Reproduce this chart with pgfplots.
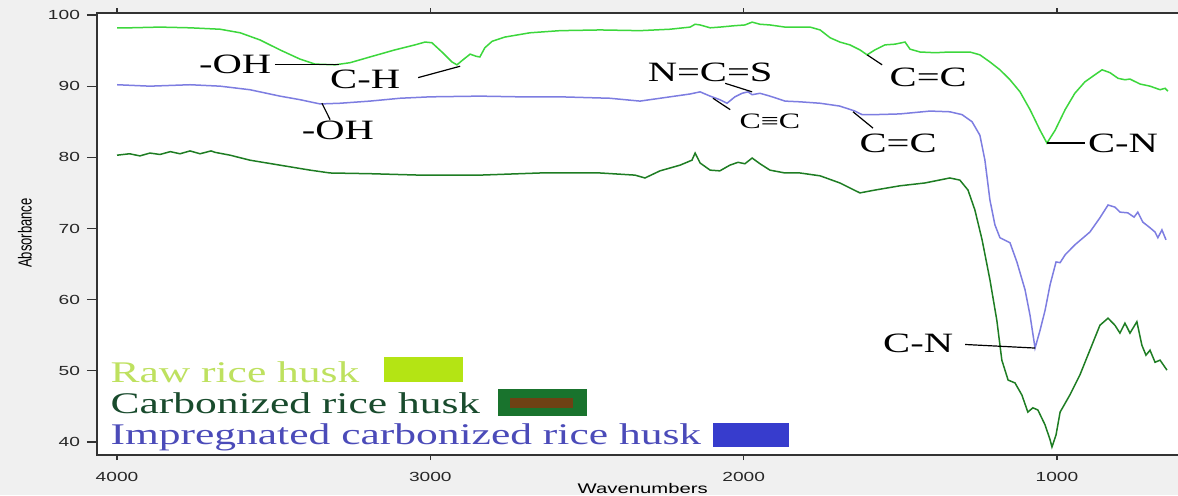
\documentclass[border=0pt]{standalone}
\usepackage{pgfplots}
\pgfplotsset{compat=1.18}
\usepackage{fontspec}
\setmainfont{Liberation Serif}[FakeStretch=1.45]
\newfontfamily\tickfont{Liberation Sans}[FakeStretch=1.45]
\newfontfamily\plainsans{Liberation Sans}
\definecolor{bggray}{RGB}{240,240,240}
\definecolor{rawc}{RGB}{60,215,60}
\definecolor{carbc}{RGB}{30,125,35}
\definecolor{impc}{RGB}{125,125,225}
\definecolor{rawtxt}{RGB}{190,225,95}
\definecolor{rawbox}{RGB}{180,228,20}
\definecolor{carbtxt}{RGB}{25,75,45}
\definecolor{carbbox}{RGB}{25,115,45}
\definecolor{carbin}{RGB}{110,65,20}
\definecolor{imptxt}{RGB}{75,75,185}
\definecolor{impbox}{RGB}{55,60,205}
\begin{document}
\begin{tikzpicture}
\useasboundingbox (0pt,0pt) rectangle (589pt,247.5pt);
\fill[bggray] (0pt,0pt) rectangle (589pt,247.5pt);
\begin{axis}[
  at={(48.5pt,20pt)}, anchor=south west,
  scale only axis, width=542.5pt, height=221pt,
  x dir=reverse, xmin=601, xmax=4064, ymin=38.17, ymax=100.28,
  axis background/.style={fill=white},
  axis line style={draw=black!80, line width=0.7pt},
  xtick={1000,2000,3000,4000}, ytick={40,50,60,70,80,90,100},
  minor tick num=0,
  tick align=outside, major tick length=5pt,
  xtick style={/pgfplots/major tick length=2.5pt},
  tick style={draw=black!80, line width=0.6pt},
  ticklabel style={font=\tickfont\fontsize{6.6}{7}\selectfont, text=black!85},
  /pgf/number format/assume math mode=true,
  /pgf/number format/1000 sep={},
  clip=false,
]
\addplot[rawc, line width=0.75pt] coordinates {
(4000,98.2)(3959,98.2)(3863,98.3)(3767,98.2)(3671,98.0)(3607,97.5)(3544,96.5)(3480,95.1)(3416,93.8)(3368,93.1)(3304,93.0)(3256,93.3)(3193,94.1)(3113,95.1)(3049,95.8)(3017,96.2)(2995,96.1)(2963,94.8)(2931,93.4)(2915,93.0)(2896,93.7)(2873,94.5)(2854,94.2)(2842,94.1)(2826,95.4)(2803,96.3)(2762,96.9)(2682,97.5)(2586,97.8)(2458,97.9)(2331,97.8)(2235,98.0)(2171,98.3)(2155,98.7)(2139,98.6)(2107,98.2)(2076,98.3)(2028,98.5)(1996,98.6)(1973,99.0)(1948,98.7)(1916,98.6)(1868,98.3)(1788,98.3)(1756,97.9)(1724,96.8)(1693,96.2)(1661,95.8)(1629,95.1)(1606,94.4)(1581,95.1)(1549,95.8)(1517,95.9)(1485,96.2)(1469,95.2)(1437,94.8)(1389,94.7)(1342,94.8)(1278,94.8)(1246,94.4)(1214,93.4)(1182,92.3)(1150,90.9)(1118,89.2)(1086,86.7)(1054,83.8)(1032,82.0)(1006,83.8)(974,86.7)(943,89.0)(911,90.6)(879,91.6)(856,92.3)(831,91.9)(805,91.1)(783,90.9)(767,91.0)(735,90.3)(703,90.0)(671,89.5)(655,89.7)(646,89.3)
};
\addplot[impc, line width=0.75pt] coordinates {
(4000,90.2)(3895,90.0)(3767,90.2)(3671,90.0)(3576,89.5)(3480,88.6)(3416,88.1)(3352,87.5)(3288,87.6)(3193,87.9)(3097,88.3)(3001,88.5)(2842,88.6)(2714,88.5)(2586,88.5)(2427,88.3)(2331,87.9)(2235,88.5)(2171,88.9)(2139,89.2)(2107,88.6)(2076,88.1)(2053,87.6)(2028,88.5)(2005,89.0)(1986,89.2)(1973,88.8)(1948,89.0)(1916,88.6)(1868,87.9)(1820,87.8)(1756,87.6)(1693,87.2)(1645,86.5)(1622,86.0)(1581,86.0)(1501,86.1)(1405,86.5)(1342,86.4)(1303,86.0)(1271,85.0)(1246,83.1)(1230,79.6)(1214,74.0)(1198,70.5)(1182,68.7)(1150,68.0)(1128,65.3)(1102,61.4)(1086,57.8)(1070,53.2)(1054,55.7)(1038,58.5)(1022,62.1)(1003,65.3)(990,65.2)(974,66.3)(943,67.7)(895,69.5)(863,71.5)(837,73.3)(815,73.0)(799,72.3)(774,72.2)(754,71.6)(742,72.3)(726,70.9)(703,70.1)(687,69.5)(678,68.7)(665,69.8)(652,68.4)
};
\addplot[carbc, line width=0.75pt] coordinates {
(4000,80.3)(3960,80.5)(3927,80.2)(3895,80.6)(3863,80.4)(3830,80.8)(3799,80.5)(3767,80.9)(3735,80.5)(3700,80.9)(3687,80.7)(3639,80.3)(3576,79.6)(3480,78.9)(3384,78.2)(3320,77.8)(3193,77.7)(3033,77.5)(2842,77.5)(2650,77.8)(2458,77.8)(2347,77.5)(2315,77.1)(2267,78.1)(2203,78.9)(2165,79.6)(2155,80.6)(2139,79.2)(2107,78.2)(2076,78.1)(2044,78.9)(2018,79.3)(1996,79.1)(1973,79.9)(1948,79.1)(1916,78.2)(1868,77.8)(1820,77.8)(1756,77.4)(1693,76.4)(1629,75.0)(1581,75.4)(1501,76.0)(1421,76.4)(1342,77.1)(1310,76.8)(1284,75.4)(1262,72.6)(1239,68.4)(1214,62.8)(1192,57.1)(1176,51.5)(1156,48.7)(1134,48.3)(1112,46.6)(1093,44.2)(1077,44.8)(1061,44.5)(1038,42.4)(1022,40.3)(1016,39.3)(1003,41.0)(990,44.2)(959,46.6)(927,49.4)(895,52.9)(863,56.4)(837,57.4)(815,56.4)(799,55.3)(783,56.7)(767,55.3)(745,56.9)(729,53.6)(716,52.2)(703,52.9)(687,51.2)(671,51.5)(649,50.1)
};
% annotations
\begin{scope}[every node/.style={inner sep=0pt, font=\fontsize{14}{16}\selectfont}]
\node at (axis cs:3623,93.0) {-OH};
\draw[line width=0.6pt] (axis cs:3496,93.0) -- (axis cs:3290,93.0);
\node at (axis cs:3208,90.9) {C-H};
\draw[line width=0.6pt] (axis cs:3039,91.2) -- (axis cs:2905,92.8);
\node at (axis cs:3295,83.8) {-OH};
\draw[line width=0.6pt] (axis cs:3346,87.6) -- (axis cs:3320,85.3);
\node at (axis cs:2107,92.0) {N=C=S};
\draw[line width=0.6pt] (axis cs:2059,90.4) -- (axis cs:1973,89.2);
\node[font=\fontsize{11}{13}\selectfont] at (axis cs:1916,85.0) {C≡C};
\draw[line width=0.6pt] (axis cs:2098,88.3) -- (axis cs:2043,86.7);
\node at (axis cs:1411,91.3) {C=C};
\draw[line width=0.6pt] (axis cs:1606,94.4) -- (axis cs:1558,93.0);
\node at (axis cs:1507,82.0) {C=C};
\draw[line width=0.6pt] (axis cs:1651,86.4) -- (axis cs:1587,84.1);
\node at (axis cs:789,82.0) {C-N};
\draw[line width=0.6pt] (axis cs:1032,82.0) -- (axis cs:910,82.0);
\node at (axis cs:1443,53.9) {C-N};
\draw[line width=0.6pt] (axis cs:1293,53.7) -- (axis cs:1070,53.2);
\end{scope}
% legend
\begin{scope}[every node/.style={inner sep=0pt, anchor=west, font=\fontsize{15}{17}\selectfont}]
\node[text=rawtxt] at (axis cs:4022,49.8) {Raw rice husk};
\node[text=carbtxt] at (axis cs:4022,45.5) {Carbonized rice husk};
\node[text=imptxt] at (axis cs:4022,40.7) {Impregnated carbonized rice husk};
\end{scope}
\fill[rawbox] (axis cs:3148,51.9) rectangle (axis cs:2896,48.4);
\fill[carbbox] (axis cs:2784,47.4) rectangle (axis cs:2500,43.6);
\fill[carbin] (axis cs:2746,46.2) rectangle (axis cs:2545,44.8);
\fill[impbox] (axis cs:2098,42.7) rectangle (axis cs:1855,39.3);
\node[rotate=90, inner sep=0pt] at (axis description cs:-0.0664,0.502) {\scalebox{1}[1.45]{\plainsans\fontsize{6.5}{7}\selectfont Absorbance}};
\node[inner sep=0pt] at (axis description cs:0.503,-0.0747) {\tickfont\fontsize{7}{8}\selectfont Wavenumbers};
\end{axis}
\end{tikzpicture}
\end{document}
